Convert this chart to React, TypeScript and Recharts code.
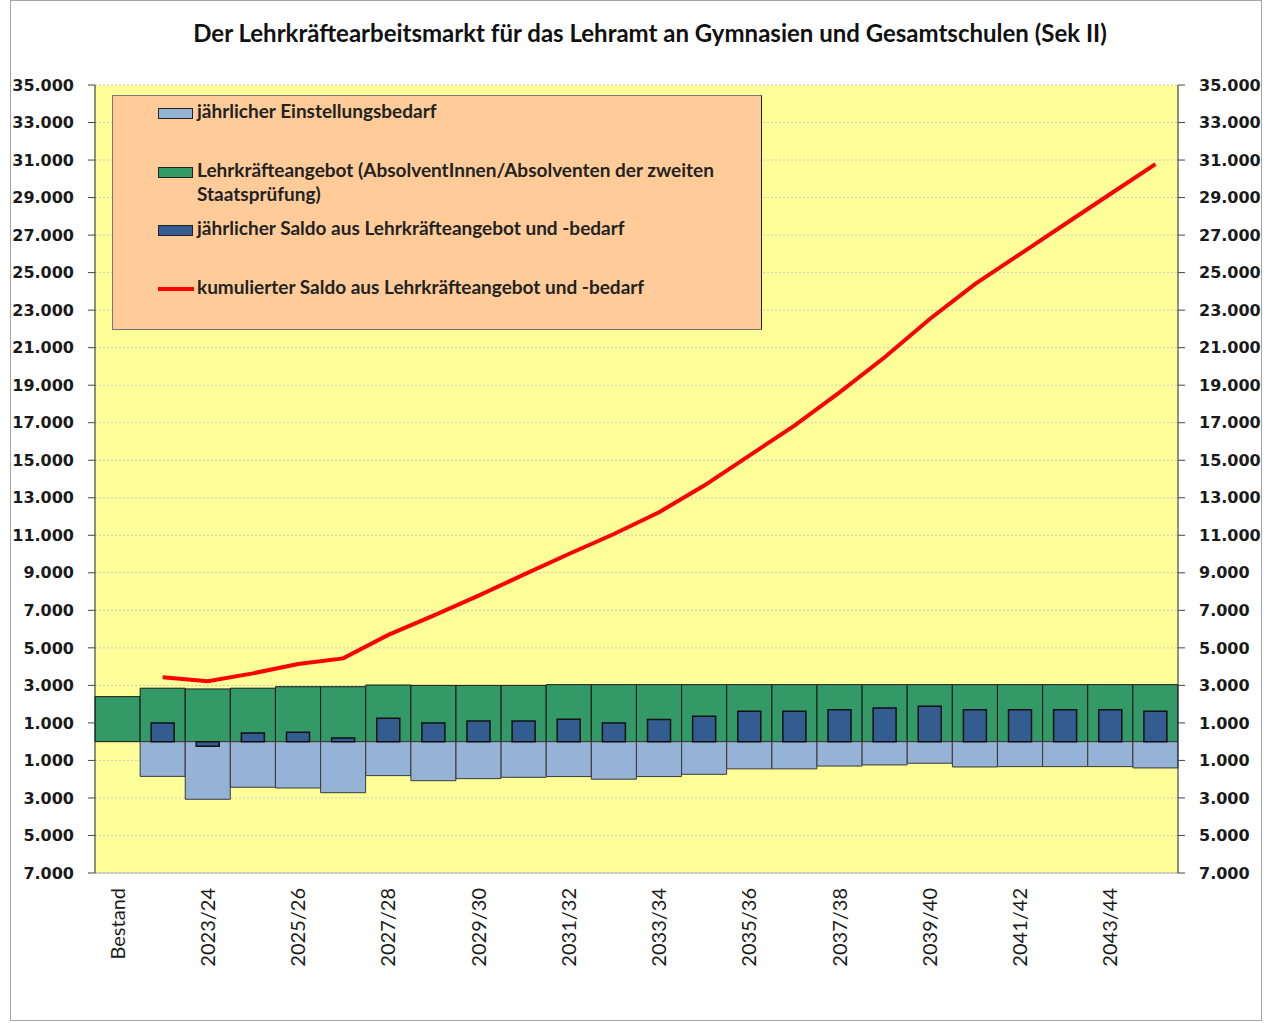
import React from "react";
import {
  ComposedChart,
  Bar,
  Line,
  XAxis,
  YAxis,
  CartesianGrid,
} from "recharts";

// Schuljahre (Bestand + 2022/23 .. 2044/45)
const categories = [
  "Bestand", "2022/23", "2023/24", "2024/25", "2025/26", "2026/27",
  "2027/28", "2028/29", "2029/30", "2030/31", "2031/32", "2032/33",
  "2033/34", "2034/35", "2035/36", "2036/37", "2037/38", "2038/39",
  "2039/40", "2040/41", "2041/42", "2042/43", "2043/44", "2044/45",
];

// Lehrkräfteangebot (Absolventen 2. Staatsprüfung)
const angebot = [
  2400, 2850, 2810, 2850, 2930, 2930, 3020, 3000, 3000, 3000, 3040, 3040,
  3040, 3040, 3040, 3040, 3040, 3040, 3040, 3040, 3040, 3040, 3040, 3040,
];

// jährlicher Einstellungsbedarf (negativ dargestellt)
const bedarf = [
  null, -1850, -3070, -2430, -2470, -2720, -1810, -2080, -1970, -1900, -1860,
  -2000, -1860, -1740, -1450, -1450, -1300, -1240, -1150, -1350, -1330, -1330,
  -1330, -1400,
];

// jährlicher Saldo
const saldo = [
  null, 1000, -250, 460, 500, 200, 1250, 1000, 1100, 1100, 1190, 1000, 1180,
  1350, 1620, 1620, 1700, 1800, 1890, 1700, 1700, 1700, 1700, 1620,
];

// kumulierter Saldo
const kumuliert = [
  null, 3430, 3220, 3640, 4140, 4440, 5690, 6720, 7780, 8900, 10000, 11070,
  12230, 13650, 15250, 16840, 18620, 20490, 22530, 24390, 25990, 27590, 29190,
  30780,
];

const yTicks = [
  -7000, -5000, -3000, -1000, 1000, 3000, 5000, 7000, 9000, 11000, 13000,
  15000, 17000, 19000, 21000, 23000, 25000, 27000, 29000, 31000, 33000, 35000,
];

const data = categories.map((cat, i) => ({
  cat,
  angebot: angebot[i],
  bedarf: bedarf[i],
  saldo: saldo[i],
  kumuliert: kumuliert[i],
}));

const COLORS = {
  bedarf: "#95B3D7",
  angebot: "#339966",
  saldo: "#335C91",
  line: "#FF0000",
};

const fmt = (v: number) =>
  Math.abs(v).toString().replace(/\B(?=(\d{3})+(?!\d))/g, ".");

const axisFont = "'DejaVu Sans', Verdana, sans-serif";
const textFont = "Lato, 'Open Sans', sans-serif";

const XTick = (props: any) => {
  const { x, y, payload } = props;
  return (
    <text
      x={x}
      y={y}
      transform={`rotate(-90 ${x} ${y})`}
      textAnchor="end"
      dy="0.35em"
      fontFamily={textFont}
      fontSize={20}
      fill="#1a1a1a"
    >
      {payload.value}
    </text>
  );
};

const Swatch = ({ color }: { color: string }) => (
  <span
    style={{
      display: "inline-block",
      width: 33,
      height: 9,
      background: color,
      border: "1px solid #222",
      marginRight: 4,
      verticalAlign: "middle",
    }}
  />
);

const legendText: React.CSSProperties = {
  fontFamily: textFont,
  fontWeight: 700,
  fontSize: 19,
  color: "#222",
  lineHeight: "24px",
  whiteSpace: "nowrap",
};

const LegendBox = () => (
  <div
    style={{
      position: "absolute",
      left: 112,
      top: 95,
      width: 650,
      height: 235,
      background: "#FFCC99",
      border: "1px solid #777",
      borderRightColor: "#222",
      boxSizing: "border-box",
    }}
  >
    <div style={{ position: "absolute", left: 45, top: 3, ...legendText }}>
      <Swatch color={COLORS.bedarf} />
      jährlicher Einstellungsbedarf
    </div>
    <div
      style={{
        position: "absolute",
        left: 45,
        top: 62,
        display: "flex",
        ...legendText,
      }}
    >
      <span>
        <Swatch color={COLORS.angebot} />
      </span>
      <span>
        Lehrkräfteangebot (AbsolventInnen/Absolventen der zweiten
        <br />
        Staatsprüfung)
      </span>
    </div>
    <div style={{ position: "absolute", left: 45, top: 120, ...legendText }}>
      <Swatch color={COLORS.saldo} />
      jährlicher Saldo aus Lehrkräfteangebot und -bedarf
    </div>
    <div style={{ position: "absolute", left: 45, top: 179, ...legendText }}>
      <span
        style={{
          display: "inline-block",
          width: 36,
          height: 4,
          background: COLORS.line,
          marginRight: 3,
          verticalAlign: "middle",
        }}
      />
      kumulierter Saldo aus Lehrkräfteangebot und -bedarf
    </div>
  </div>
);

export default function App() {
  return (
    <div
      style={{
        position: "absolute",
        left: 0,
        top: 0,
        width: 1268,
        height: 1023,
        background: "#fff",
      }}
    >
      <div
        style={{
          position: "absolute",
          left: 10,
          top: 0,
          width: 1252,
          height: 1021,
          border: "1px solid #a6a6a6",
          boxSizing: "border-box",
        }}
      />
      <div
        style={{
          position: "absolute",
          left: 0,
          top: 18,
          width: 1300,
          textAlign: "center",
          fontFamily: textFont,
          fontWeight: 700,
          fontSize: 24,
          color: "#111",
        }}
      >
        Der Lehrkräftearbeitsmarkt für das Lehramt an Gymnasien und
        Gesamtschulen (Sek II)
      </div>
      <div style={{ position: "absolute", left: 0, top: 0 }}>
        <ComposedChart
          width={1268}
          height={1023}
          data={data}
          margin={{ top: 85, right: 0, bottom: 50, left: 0 }}
          barCategoryGap={0}
          barGap={0}
          stackOffset="sign"
        >
          <CartesianGrid
            yAxisId="left"
            vertical={false}
            fill="#FFFF99"
            stroke="#c8c8c8"
            strokeDasharray="2 2"
          />
          <XAxis
            dataKey="cat"
            xAxisId="main"
            interval={1}
            tick={<XTick />}
            tickLine={false}
            tickSize={0}
            tickMargin={15}
            height={100}
            axisLine={{ stroke: "#b0b0b0" }}
          />
          <XAxis dataKey="cat" xAxisId="inner" hide height={0} />
          <YAxis
            yAxisId="left"
            domain={[-7000, 35000]}
            ticks={yTicks}
            tickFormatter={fmt}
            width={95}
            tickSize={7}
            tickMargin={14}
            allowDataOverflow
            axisLine={{ stroke: "#222" }}
            tickLine={{ stroke: "#444" }}
            tick={{
              fontFamily: axisFont,
              fontWeight: 700,
              fontSize: 16,
              fill: "#1a1a1a",
            }}
          />
          <YAxis
            yAxisId="right"
            orientation="right"
            domain={[-7000, 35000]}
            ticks={yTicks}
            tickFormatter={fmt}
            width={90}
            tickSize={7}
            tickMargin={14}
            allowDataOverflow
            axisLine={{ stroke: "#222" }}
            tickLine={{ stroke: "#444" }}
            tick={{
              fontFamily: axisFont,
              fontWeight: 700,
              fontSize: 16,
              fill: "#1a1a1a",
              textAnchor: "start",
            }}
          />
          <Bar
            xAxisId="main"
            yAxisId="left"
            dataKey="angebot"
            stackId="a"
            fill={COLORS.angebot}
            stroke="#1a1a1a"
            strokeWidth={1}
            isAnimationActive={false}
          />
          <Bar
            xAxisId="main"
            yAxisId="left"
            dataKey="bedarf"
            stackId="a"
            fill={COLORS.bedarf}
            stroke="#3a3a3a"
            strokeWidth={1}
            isAnimationActive={false}
          />
          <Bar
            xAxisId="inner"
            yAxisId="left"
            dataKey="saldo"
            barSize={23}
            fill={COLORS.saldo}
            stroke="#111"
            strokeWidth={1.5}
            isAnimationActive={false}
          />
          <Line
            xAxisId="main"
            yAxisId="right"
            dataKey="kumuliert"
            type="linear"
            stroke={COLORS.line}
            strokeWidth={4}
            dot={false}
            activeDot={false}
            isAnimationActive={false}
          />
        </ComposedChart>
      </div>
      <LegendBox />
    </div>
  );
}
